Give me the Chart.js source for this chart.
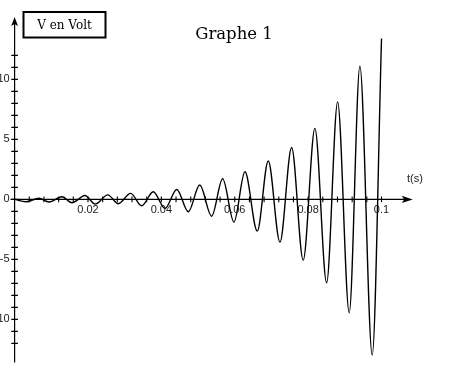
<!DOCTYPE html>
<html><head><meta charset="utf-8">
<script src="https://cdn.jsdelivr.net/npm/chart.js@4.4.0/dist/chart.umd.min.js"></script>
<style>html,body{margin:0;padding:0;background:#fff;overflow:hidden}#wrap{width:456px;height:379px;position:relative}</style>
</head><body><div id="wrap"><canvas id="c" width="456" height="379"></canvas></div>
<script>
// ---- data ----
const startTime = 0, startValue = 0;
const peakTimes   = [0.00665, 0.01292, 0.01918, 0.02540, 0.03163, 0.03779, 0.04420, 0.05046, 0.05670, 0.06278, 0.06913, 0.07550, 0.08185, 0.08804, 0.09411];
const peakValues  = [0.10, 0.22, 0.33, 0.38, 0.50, 0.64, 0.83, 1.20, 1.72, 2.30, 3.20, 4.33, 5.92, 8.13, 11.10];
const troughTimes = [0.00311, 0.00937, 0.01564, 0.02196, 0.02826, 0.03463, 0.04098, 0.04733, 0.05371, 0.05978, 0.06613, 0.07232, 0.07866, 0.08504, 0.09120, 0.09747];
const troughValues= [-0.20, -0.22, -0.28, -0.39, -0.36, -0.53, -0.75, -1.03, -1.40, -1.89, -2.64, -3.56, -5.06, -6.95, -9.45, -12.97];
const endTime = 0.1, endValue = 13.4;
const xTickLabels = ['0.02', '0.04', '0.06', '0.08', '0.1'];
const yTickLabels = ['10', '5', '0', '-5', '-10'];
const xAxisTitle = 't(s)';
const yAxisTitle = 'V en Volt';
const chartTitle = 'Graphe 1';

// ---- build point table ----
const pts = [{x: startTime, y: startValue}];
peakTimes.forEach((t, i) => pts.push({x: t, y: peakValues[i]}));
troughTimes.forEach((t, i) => pts.push({x: t, y: troughValues[i]}));
pts.push({x: endTime, y: endValue});
pts.sort((a, b) => a.x - b.x);

const findLabel = (arr, v) => { const l = arr.find(s => Math.abs(parseFloat(s) - v) < 1e-6); return l === undefined ? '' : l; };

const axesPlugin = {
  id: 'axesDraw',
  beforeDatasetsDraw(chart) {
    const {ctx, scales: {x, y}, chartArea} = chart;
    const x0 = x.getPixelForValue(0), y0 = y.getPixelForValue(0);
    ctx.save();
    ctx.strokeStyle = '#000'; ctx.fillStyle = '#000'; ctx.lineWidth = 1.2;
    // x axis line + arrow
    const xe = chartArea.right;
    ctx.beginPath(); ctx.moveTo(x0 - 4, y0); ctx.lineTo(xe - 6, y0); ctx.stroke();
    ctx.beginPath(); ctx.moveTo(xe, y0); ctx.lineTo(xe - 11, y0 - 3.6); ctx.lineTo(xe - 8.5, y0); ctx.lineTo(xe - 11, y0 + 3.6); ctx.closePath(); ctx.fill();
    // y axis line + arrow
    const yt = chartArea.top;
    ctx.beginPath(); ctx.moveTo(x0, chartArea.bottom); ctx.lineTo(x0, yt + 6); ctx.stroke();
    ctx.beginPath(); ctx.moveTo(x0, yt); ctx.lineTo(x0 - 3.4, yt + 9); ctx.lineTo(x0, yt + 7); ctx.lineTo(x0 + 3.4, yt + 9); ctx.closePath(); ctx.fill();
    // tick marks
    ctx.lineWidth = 1.1;
    ctx.beginPath();
    x.ticks.forEach(t => { const p = x.getPixelForValue(t.value); ctx.moveTo(p, y0 - 2.8); ctx.lineTo(p, y0 + 2.8); });
    y.ticks.forEach(t => { const p = y.getPixelForValue(t.value); ctx.moveTo(x0 - 3.3, p); ctx.lineTo(x0 + 3.3, p); });
    ctx.stroke();
    // axis title t(s)
    ctx.font = '11px "Liberation Sans", Arial, sans-serif';
    ctx.fillStyle = '#222'; ctx.textAlign = 'center'; ctx.textBaseline = 'alphabetic';
    ctx.fillText(xAxisTitle, 415, 182);
    // V en Volt box
    ctx.fillStyle = '#000';
    ctx.lineWidth = 2;
    ctx.strokeRect(23.5, 12, 82, 25.5);
    ctx.font = '12px "DejaVu Serif", serif';
    ctx.fillText(yAxisTitle, 64.5, 29.3);
    // title
    ctx.font = '16.5px "DejaVu Serif", serif';
    ctx.fillText(chartTitle, 234, 39.3);
    ctx.restore();
  }
};

new Chart(document.getElementById('c'), {
  type: 'line',
  data: { datasets: [{
    data: pts,
    borderColor: '#000',
    borderWidth: 1.4,
    pointRadius: 0,
    fill: false,
    cubicInterpolationMode: 'monotone'
  }]},
  options: {
    responsive: false,
    devicePixelRatio: 1,
    animation: false,
    events: [],
    layout: { padding: { left: 14.6, right: 43.3, top: 17, bottom: 16.4 } },
    plugins: { legend: { display: false }, tooltip: { enabled: false }, title: { display: false } },
    scales: {
      x: {
        type: 'linear', min: 0, max: 0.1085,
        position: { y: 0 },
        grid: { display: false, drawTicks: false },
        border: { display: false },
        ticks: {
          stepSize: 0.004, autoSkip: false, maxRotation: 0, minRotation: 0, padding: 4,
          color: '#222', font: { family: '"Liberation Sans", Arial, sans-serif', size: 11 },
          callback: (v) => findLabel(xTickLabels, v)
        },
        afterBuildTicks: (s) => { s.ticks = s.ticks.filter(t => t.value > 1e-9 && t.value < 0.1 + 1e-6); },
        afterFit: (s) => { s.height = 0; }
      },
      y: {
        type: 'linear', min: -13.6, max: 15.2,
        position: { x: -0.00135 },
        grid: { display: false, drawTicks: false },
        border: { display: false },
        ticks: {
          stepSize: 1, autoSkip: false, padding: 5,
          color: '#222', font: { family: '"Liberation Sans", Arial, sans-serif', size: 11 },
          callback: (v) => findLabel(yTickLabels, v)
        },
        afterBuildTicks: (s) => { s.ticks = s.ticks.filter(t => t.value >= -13 - 1e-6 && t.value <= 12 + 1e-6); },
        afterFit: (s) => { s.width = 0; }
      }
    }
  },
  plugins: [axesPlugin]
});
</script>
</body></html>
